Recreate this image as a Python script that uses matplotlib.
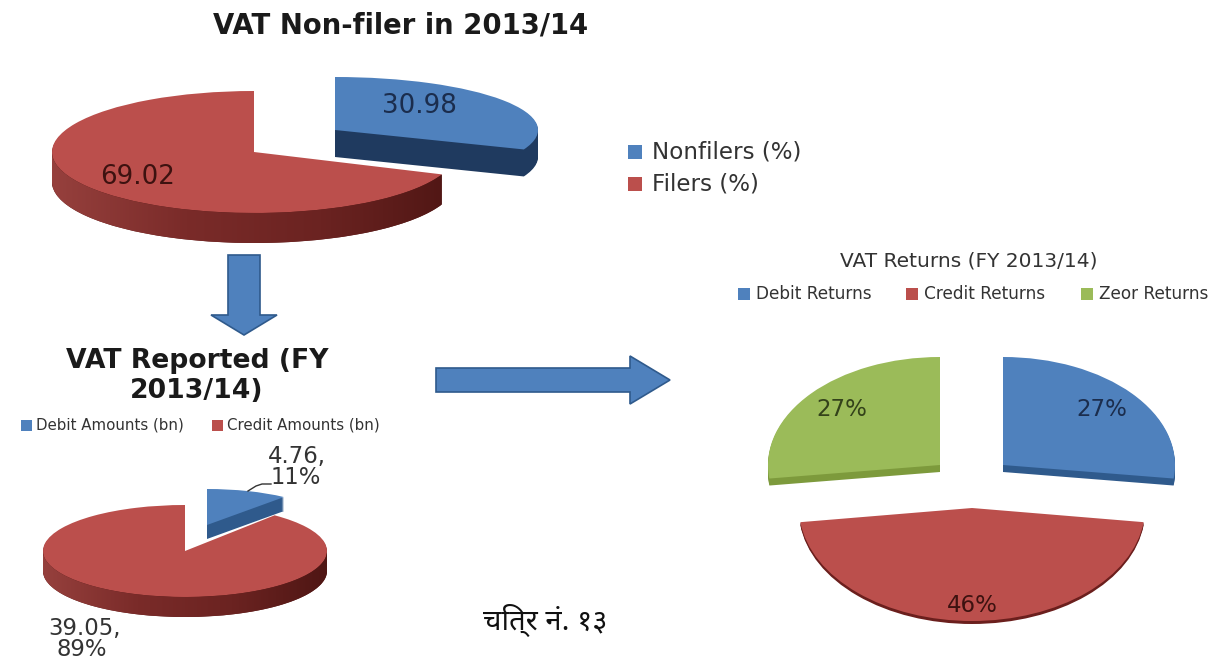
import numpy as np
import matplotlib
matplotlib.use("Agg")
import matplotlib.pyplot as plt
from matplotlib.colors import LinearSegmentedColormap
from matplotlib.patches import FancyArrow, Polygon, Rectangle
from matplotlib.transforms import Affine2D

W, H = 1211, 660

BLUE = "#4f81bd"
RED = "#bb4f4c"
GREEN = "#9bbb59"

filer_labels = ["Nonfilers (%)", "Filers (%)"]
filer_values = [30.98, 69.02]

reported_labels = ["Debit Amounts (bn)", "Credit Amounts (bn)"]
reported_values = [4.76, 39.05]
reported_shares = ["11%", "89%"]

return_labels = ["Debit Returns", "Credit Returns", "Zeor Returns"]
return_values = [27, 46, 27]

GRAD_RED = ["#96403d", "#7a2b29", "#6b2321", "#4f1614"]


def draw_pie(ax, values, colors, sides, geom, z, grads=None):
    # geom: cx, cy, rx, ry, depth for every slice, pie is drawn in pixel coords
    grads = grads or {}
    for i in range(len(values)):
        cx, cy, rx, ry, depth = geom[i]
        for d in list(range(depth, 0, -1)) + [0]:
            col = colors if d == 0 else sides
            wedges, _ = ax.pie(values, colors=col, startangle=90, counterclock=False,
                               radius=1, center=(0, 0))
            for j, w in enumerate(wedges):
                if j != i:
                    w.remove()
            w = wedges[i]
            w.set_linewidth(0)
            w.set_zorder(z)
            w.set_transform(Affine2D().scale(rx, -ry).translate(cx, cy + d) + ax.transData)
            if d == 1 and i in grads:
                t1, t2 = w.theta1, w.theta2
                while t1 < 0:
                    t1, t2 = t1 + 360, t2 + 360
                t = np.radians(np.linspace(max(t1, 180), min(t2, 360), 120))
                xs = cx + rx * np.cos(t)
                ys = cy - ry * np.sin(t)
                pts = np.r_[np.c_[xs, ys], np.c_[xs, ys + depth][::-1]]
                clip = Polygon(pts, transform=ax.transData)
                cmap = LinearSegmentedColormap.from_list("side", grads[i])
                im = ax.imshow(np.linspace(0, 1, 256).reshape(1, -1), cmap=cmap, aspect="auto",
                               extent=(cx - rx, cx + rx, cy + ry + depth, cy), zorder=z + 0.5)
                im.set_clip_path(clip)
        z += 1
    return z


def legend_row(ax, labels, colors, xs, y, size, box, tx):
    for label, c, x in zip(labels, colors, xs):
        ax.add_patch(Rectangle((x, y - box / 2), box, box, color=c, lw=0, zorder=20))
        ax.text(x + tx, y, label, fontsize=size, color="#333333", va="center", ha="left", zorder=20)


def main():
    fig = plt.figure(figsize=(W / 100, H / 100), dpi=100)
    ax = fig.add_axes([0, 0, 1, 1])

    # filers, blue slice is pulled out
    z = draw_pie(ax, filer_values, [BLUE, RED], ["#1f3a5f", "#5c1d1b"],
                 [(335, 130, 203, 53, 27), (254, 152, 202, 61, 30)], 1, grads={1: GRAD_RED})
    # reported amounts
    z = draw_pie(ax, reported_values, [BLUE, RED], ["#2f5a8c", "#5c1d1b"],
                 [(207, 525, 122, 36, 14), (185, 551, 142, 46, 20)], z, grads={1: GRAD_RED})
    # returns
    z = draw_pie(ax, return_values, [BLUE, RED, GREEN], ["#2f5a8c", "#6b1f1d", "#7d9a3c"],
                 [(1003, 465, 172, 108, 7), (972, 508, 173, 113, 3), (940, 465, 172, 108, 7)], z)

    ax.set_aspect("auto")
    ax.set_xlim(0, W)
    ax.set_ylim(H, 0)
    ax.axis("off")

    ax.text(401, 26, "VAT Non-filer in 2013/14", fontsize=19.8, fontweight="bold",
            color="#1a1a1a", ha="center", va="center", zorder=20)
    ax.text(197, 361, "VAT Reported (FY", fontsize=19.2, fontweight="bold",
            color="#1a1a1a", ha="center", va="center", zorder=20)
    ax.text(197, 391, "2013/14)", fontsize=19.2, fontweight="bold",
            color="#1a1a1a", ha="center", va="center", zorder=20)
    ax.text(969, 261, "VAT Returns (FY 2013/14)", fontsize=14.5,
            color="#333333", ha="center", va="center", zorder=20)

    ax.text(419, 106, f"{filer_values[0]:.2f}", fontsize=18.8, color="#1b2d4d",
            ha="center", va="center", zorder=20)
    ax.text(138, 177, f"{filer_values[1]:.2f}", fontsize=18.8, color="#3d1210",
            ha="center", va="center", zorder=20)

    ax.text(297, 456, f"{reported_values[0]:.2f},", fontsize=16.4, color="#333333",
            ha="center", va="center", zorder=20)
    ax.text(296, 478, reported_shares[0], fontsize=16.4, color="#333333",
            ha="center", va="center", zorder=20)
    ax.text(85, 628, f"{reported_values[1]:.2f},", fontsize=16.4, color="#333333",
            ha="center", va="center", zorder=20)
    ax.text(82, 649, reported_shares[1], fontsize=16.4, color="#333333",
            ha="center", va="center", zorder=20)
    ax.plot([248, 256, 262, 271], [491, 486, 484, 484], color="#333333", lw=1, zorder=20)

    ax.text(1102, 410, f"{return_values[0]}%", fontsize=16.5, color="#1b2d4d",
            ha="center", va="center", zorder=20)
    ax.text(972, 605, f"{return_values[1]}%", fontsize=16.5, color="#3d1210",
            ha="center", va="center", zorder=20)
    ax.text(842, 410, f"{return_values[2]}%", fontsize=16.5, color="#33421a",
            ha="center", va="center", zorder=20)

    legend_row(ax, filer_labels[:1], [BLUE], [628], 152, 16.6, 14, 24)
    legend_row(ax, filer_labels[1:], [RED], [628], 184, 16.6, 14, 24)
    legend_row(ax, reported_labels, [BLUE, RED], [21, 212], 425, 10.8, 11, 15)
    legend_row(ax, return_labels, [BLUE, RED, GREEN], [738, 906, 1081], 294, 12.2, 12, 18)

    arrow = dict(length_includes_head=True, facecolor=BLUE, edgecolor="#2f5a8c", lw=1.2, zorder=20)
    ax.add_patch(FancyArrow(244, 255, 0, 80, width=32, head_width=66, head_length=20, **arrow))
    ax.add_patch(FancyArrow(436, 380, 234, 0, width=24, head_width=48, head_length=40, **arrow))

    ax.text(545, 620, "चित्र नं. १३", fontsize=21, color="#111111",
            family=["Noto Sans", "DejaVu Sans"], ha="center", va="center", zorder=20)

    fig.savefig("out.png", dpi=100, facecolor="white")


if __name__ == "__main__":
    main()
